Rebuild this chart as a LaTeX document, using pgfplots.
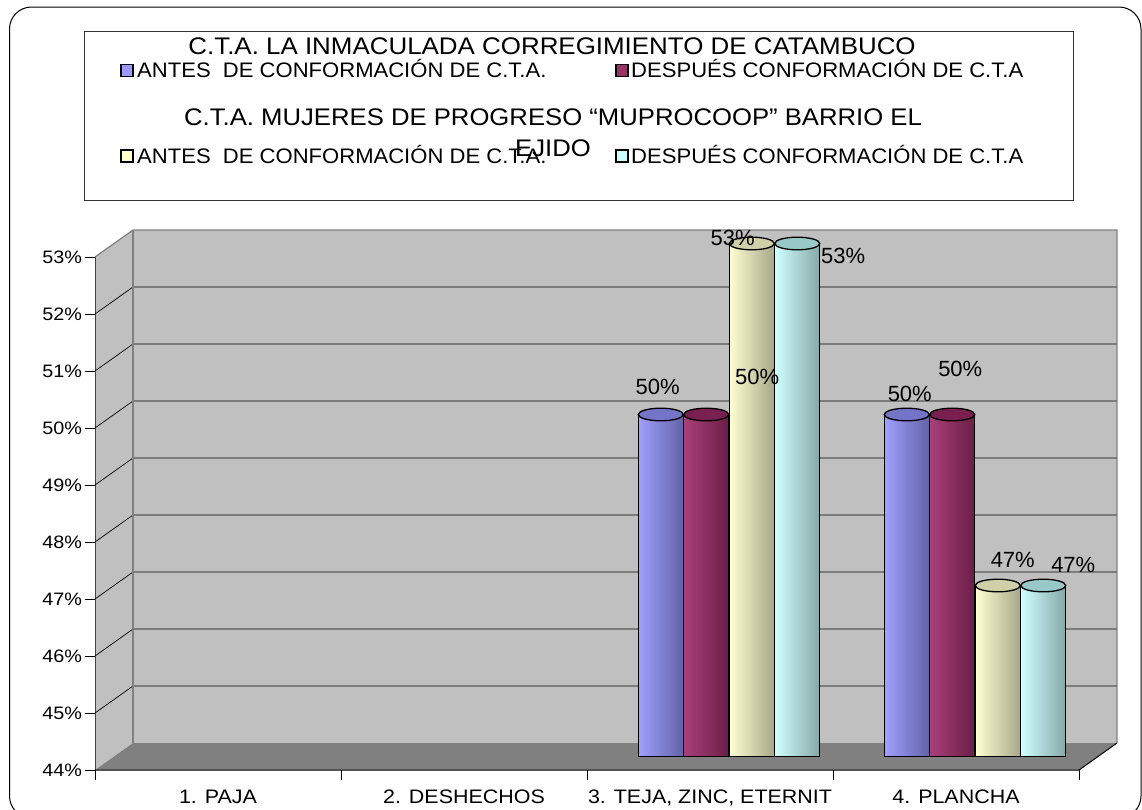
\documentclass[border=0pt]{standalone}
\usepackage{pgfplots}
\pgfplotsset{compat=1.18}
\usepackage{pgfplotstable}
\usepackage{graphicx}
\usepackage{fontspec}
\setmainfont{Liberation Sans}
\newcommand{\sx}[1]{\scalebox{1.1}[1]{#1}}
\newcommand{\sxl}[1]{\scalebox{1.05}[1]{#1}}
\newcommand{\fs}[1]{\fontsize{#1}{#1}\selectfont}

\definecolor{wallc}{HTML}{C0C0C0}
\definecolor{floorc}{HTML}{808080}
\definecolor{edgec}{HTML}{808080}
\definecolor{lgA}{HTML}{9999FF}
\definecolor{lgB}{HTML}{993366}
\definecolor{lgC}{HTML}{FFFFCC}
\definecolor{lgD}{HTML}{CCFFFF}
\definecolor{cAl}{HTML}{A0A0FF}
\definecolor{cAr}{HTML}{6262A8}
\definecolor{cAt}{HTML}{7474C8}
\definecolor{cBl}{HTML}{A8407A}
\definecolor{cBr}{HTML}{6B1E46}
\definecolor{cBt}{HTML}{7A2050}
\definecolor{cCl}{HTML}{FFFFD2}
\definecolor{cCr}{HTML}{A8A88A}
\definecolor{cCt}{HTML}{CFCFA8}
\definecolor{cDl}{HTML}{D0FFFF}
\definecolor{cDr}{HTML}{86A8A8}
\definecolor{cDt}{HTML}{99C8C8}

% x = category, y = value (%), dx/dy = label offset (pt)
\pgfplotstableread{
x y dx dy
0 0 0 0
1 0 0 0
2 50 -3 27.5
3 50 3 20.5
}\tA
\pgfplotstableread{
x y dx dy
0 0 0 0
1 0 0 0
2 50 51 37.5
3 50 8 45.5
}\tB
\pgfplotstableread{
x y dx dy
0 0 0 0
1 0 0 0
2 53 -19 5.5
3 47 15 25.5
}\tC
\pgfplotstableread{
x y dx dy
0 0 0 0
1 0 0 0
2 53 46 -12.5
3 47 30 20.5
}\tD

\pgfplotsset{
  cyl/.style n args={4}{ybar, bar width=45pt, bar shift=0pt, xshift=#1, yshift=13.5pt,
    draw=black, line width=1.3pt, left color=#2, right color=#3,
    restrict y to domain=40:60, restrict x to domain=#4},
  cyltop/.style 2 args={only marks, mark=*, mark size=22.5pt, xshift=#1, yshift=13.5pt,
    restrict y to domain=40:60,
    mark options={yscale=0.28, fill=#2, draw=black, line width=1.3pt}},
  cyllab/.style={draw=none, xshift=#1, yshift=13.5pt, restrict y to domain=40:60,
    visualization depends on={\thisrow{dx} \as \ldx},
    visualization depends on={\thisrow{dy} \as \ldy},
    nodes near coords={\pgfmathprintnumber[assume math mode=true]{\pgfplotspointmeta}\%},
    nodes near coords style={anchor=center, xshift=\ldx pt, yshift=\ldy pt,
      font=\fs{22}, text=black, inner sep=0pt}},
}

\begin{document}
\begin{tikzpicture}[x=1pt,y=1pt]
\path[use as bounding box] (0,0) rectangle (1142,-809);
\fill[white] (0,0) rectangle (1142,-809);
\draw[line width=1pt, rounded corners=22pt] (9.5,-7) rectangle (1141,-818);

% legend box
\draw[line width=0.8pt, black!80] (84.5,-31) rectangle (1073,-200);
\node[anchor=base, inner sep=0pt, font=\fs{24}] at (552,-54)
  {\scalebox{1.08}[1]{C.T.A. LA INMACULADA CORREGIMIENTO DE CATAMBUCO}};
\filldraw[fill=lgA, draw=black, line width=1.4pt] (121,-64.5) rectangle (133,-76.5);
\node[anchor=base west, inner sep=0pt, font=\fs{21}] at (137,-77.5)
  {\sxl{ANTES\ \ DE CONFORMACIÓN DE C.T.A.}};
\filldraw[fill=lgB, draw=black, line width=1.4pt] (616,-64.5) rectangle (628,-76.5);
\node[anchor=base west, inner sep=0pt, font=\fs{21}] at (631,-77.5)
  {\sxl{DESPUÉS CONFORMACIÓN DE C.T.A}};
\node[anchor=base, inner sep=0pt, font=\fs{24}] at (553,-125)
  {\scalebox{1.07}[1]{C.T.A. MUJERES DE PROGRESO “MUPROCOOP” BARRIO EL}};
\filldraw[fill=lgC, draw=black, line width=1.4pt] (121,-150) rectangle (133,-162);
\node[anchor=base west, inner sep=0pt, font=\fs{21}] at (137,-163)
  {\sxl{ANTES\ \ DE CONFORMACIÓN DE C.T.A.}};
\node[anchor=base, inner sep=0pt, font=\fs{24}] at (553,-156)
  {\scalebox{1.07}[1]{EJIDO}};
\filldraw[fill=lgD, draw=black, line width=1.4pt] (616,-150) rectangle (628,-162);
\node[anchor=base west, inner sep=0pt, font=\fs{21}] at (631,-163)
  {\sxl{DESPUÉS CONFORMACIÓN DE C.T.A}};

\begin{axis}[
  at={(95pt,-770pt)}, anchor=south west,
  x=246pt, y=57pt,
  xmin=-0.5, xmax=3.7, ymin=44, ymax=53.6,
  axis line style={draw=none},
  tick pos=left, tick align=outside,
  major tick length=9.5pt,
  every tick/.style={black, line width=0.8pt},
  ytick={44,45,46,47,48,49,50,51,52,53},
  yticklabels={\sx{44\%},\sx{45\%},\sx{46\%},\sx{47\%},\sx{48\%},\sx{49\%},\sx{50\%},\sx{51\%},\sx{52\%},\sx{53\%}},
  yticklabel style={font=\fs{18}, text=black},
  xtick={-0.5,0.5,1.5,2.5,3.5},
  xticklabels={},
  extra x ticks={0,1,2,3},
  extra x tick labels={{\sx{1. PAJA}},{\sx{2. DESHECHOS}},{\sx{3. TEJA, ZINC, ETERNIT}},{\sx{4. PLANCHA}}},
  extra x tick style={major tick length=0pt, xticklabel style={anchor=north, yshift=-16.5pt, font=\fs{19.5}, text=black}},
]
% walls and floor
\fill[wallc] (axis cs:-0.5,44) -- (axis cs:-0.5,53) -- (axis cs:-0.34553,53.47368) -- (axis cs:-0.34553,44.47368) -- cycle;
\fill[wallc] (axis cs:-0.34553,44.47368) rectangle (axis cs:3.65447,53.47368);
\fill[floorc] (axis cs:-0.5,44) -- (axis cs:3.5,44) -- (axis cs:3.65447,44.47368) -- (axis cs:-0.34553,44.47368) -- cycle;
\pgfplotsinvokeforeach{45,46,47,48,49,50,51,52}{
  \draw[black, line width=0.7pt] (axis cs:-0.5,#1) -- (axis cs:-0.34553,{#1+0.47368}) -- (axis cs:3.65447,{#1+0.47368});
}
\draw[edgec, line width=1.2pt] (axis cs:-0.5,53) -- (axis cs:-0.34553,53.47368) -- (axis cs:3.65447,53.47368) -- (axis cs:3.65447,44.47368);
\draw[edgec, line width=1.2pt] (axis cs:-0.34553,44.47368) -- (axis cs:-0.34553,53.47368);

% cylinders
\addplot[cyl={-49.25pt}{cAl}{cAr}{2:2}] table[x=x,y=y]{\tA};
\addplot[cyl={-49.25pt}{cAl}{cAr}{3:3}] table[x=x,y=y]{\tA};
\addplot[cyltop={-49.25pt}{cAt}] table[x=x,y=y]{\tA};
\addplot[cyl={-3.75pt}{cBl}{cBr}{2:2}] table[x=x,y=y]{\tB};
\addplot[cyl={-3.75pt}{cBl}{cBr}{3:3}] table[x=x,y=y]{\tB};
\addplot[cyltop={-3.75pt}{cBt}] table[x=x,y=y]{\tB};
\addplot[cyl={41.75pt}{cCl}{cCr}{2:2}] table[x=x,y=y]{\tC};
\addplot[cyl={41.75pt}{cCl}{cCr}{3:3}] table[x=x,y=y]{\tC};
\addplot[cyltop={41.75pt}{cCt}] table[x=x,y=y]{\tC};
\addplot[cyl={87.25pt}{cDl}{cDr}{2:2}] table[x=x,y=y]{\tD};
\addplot[cyl={87.25pt}{cDl}{cDr}{3:3}] table[x=x,y=y]{\tD};
\addplot[cyltop={87.25pt}{cDt}] table[x=x,y=y]{\tD};

% front edges
\draw[black, line width=1pt] (axis cs:-0.5,53) -- (axis cs:-0.5,44) -- (axis cs:3.5,44) -- (axis cs:3.65447,44.47368);

% data labels
\addplot[cyllab=-49.25pt] table[x=x,y=y]{\tA};
\addplot[cyllab=-3.75pt] table[x=x,y=y]{\tB};
\addplot[cyllab=41.75pt] table[x=x,y=y]{\tC};
\addplot[cyllab=87.25pt] table[x=x,y=y]{\tD};
\end{axis}
\end{tikzpicture}
\end{document}
